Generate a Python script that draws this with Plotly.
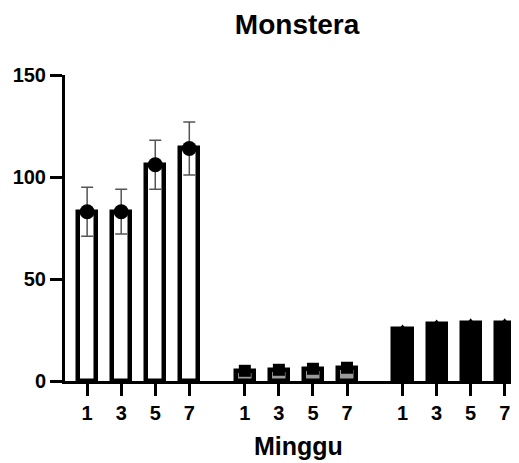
import plotly.graph_objects as go

weeks = ["1", "3", "5", "7"]
values_a = [83, 83, 106, 114]
err_a = [12, 11, 12, 13]
values_b = [5, 5.5, 6, 6.5]
values_c = [25.5, 28, 28.5, 28.5]
yticks = [0, 50, 100, 150]

group_gap = 4.63
def xs(g):
    return [g * group_gap + i for i in range(len(weeks))]

fig = go.Figure()
bw = 0.53
lw = 4.5

# group A
fig.add_trace(go.Bar(x=xs(0), y=values_a, width=bw,
                     marker=dict(color="white", line=dict(color="black", width=lw)),
                     error_y=dict(type="data", array=err_a, color="#555555", thickness=1.5, width=6),
                     showlegend=False))
fig.add_trace(go.Scatter(x=xs(0), y=values_a, mode="markers",
                         marker=dict(symbol="circle", size=15, color="black"), showlegend=False))
# group B
fig.add_trace(go.Bar(x=xs(1), y=values_b, width=bw,
                     marker=dict(color="#9a9a9a", line=dict(color="black", width=lw)),
                     showlegend=False))
fig.add_trace(go.Scatter(x=xs(1), y=values_b, mode="markers",
                         marker=dict(symbol="square", size=12, color="black"), showlegend=False))
# group C
fig.add_trace(go.Bar(x=xs(2), y=values_c, width=bw,
                     marker=dict(color="black", line=dict(color="black", width=lw)),
                     showlegend=False))
fig.add_trace(go.Scatter(x=xs(2), y=values_c, mode="markers",
                         marker=dict(symbol="triangle-up", size=9, color="black"), showlegend=False))

tickvals = xs(0) + xs(1) + xs(2)
ticktext = weeks * 3

fig.update_layout(
    width=519, height=463,
    margin=dict(l=57, r=8, t=67, b=90),
    plot_bgcolor="white", paper_bgcolor="white",
    font=dict(family="Liberation Sans", color="black"),
    title=dict(text="<b>Monstera</b>", xref="container", x=0.557, xanchor="center",
               yref="container", y=1 - 16 / 463, yanchor="middle",
               font=dict(size=28, color="black")),
    bargap=0,
    annotations=[dict(text="<b>Minggu</b>", xref="paper", yref="paper", x=0.514, y=-0.212,
                      xanchor="center", yanchor="middle", showarrow=False,
                      font=dict(size=25, color="black", family="Liberation Sans"))],
)
fig.update_xaxes(range=[-0.65, 12.68], tickvals=tickvals, ticktext=ticktext,
                 showline=True, linecolor="black", linewidth=3, automargin=False,
                 ticks="outside", ticklen=12, tickwidth=3, tickcolor="black",
                 tickfont=dict(size=20, family="Liberation Sans", weight="bold"),
                 showgrid=False, zeroline=False)
fig.update_yaxes(range=[0, 150], tickvals=yticks, automargin=False,
                 showline=True, linecolor="black", linewidth=3,
                 ticks="outside", ticklen=12, tickwidth=3, tickcolor="black",
                 tickfont=dict(size=20, family="Liberation Sans", weight="bold"),
                 showgrid=False, zeroline=False)

fig.write_html("out.html")
